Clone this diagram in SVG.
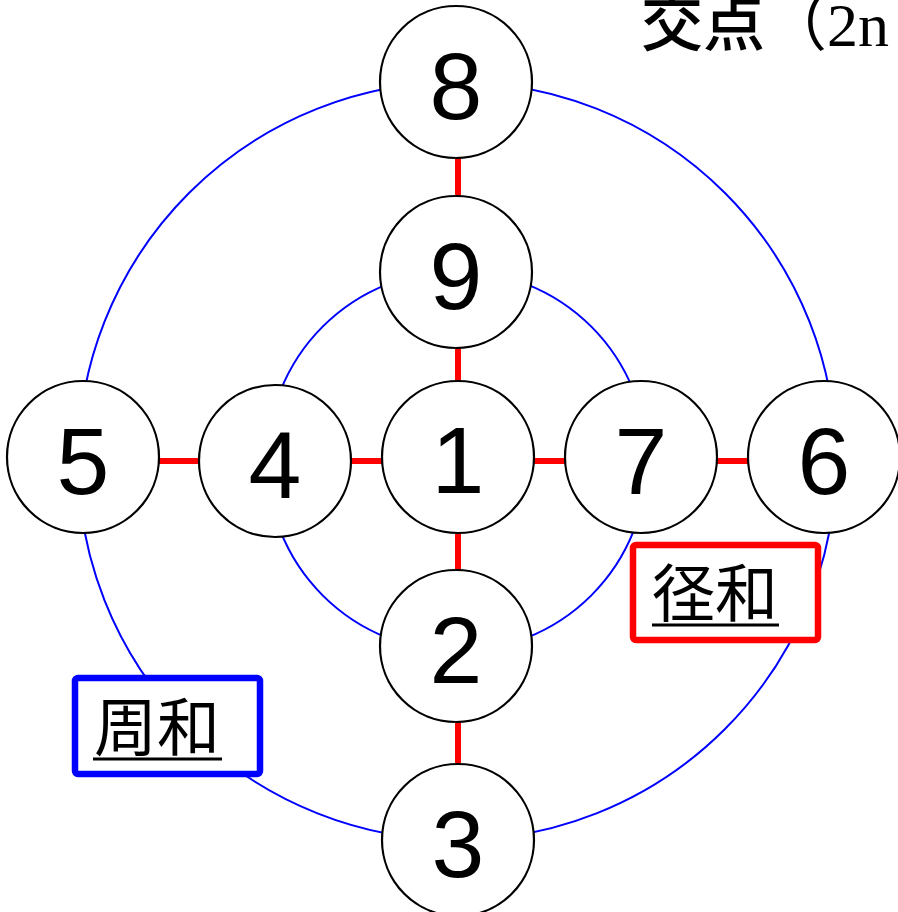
<svg xmlns="http://www.w3.org/2000/svg" width="898" height="912" viewBox="0 0 898 912">
<style>
.ring{fill:none;stroke:#0000ff;stroke-width:2}
.spoke{stroke:#ff0000;stroke-width:6;fill:none}
.node circle{fill:#fff;stroke:#000;stroke-width:2.2}
.node text{font-family:"Liberation Sans",Arial,sans-serif;font-size:95px;text-anchor:middle;fill:#000}
.lbl{font-family:"Noto Sans CJK JP","Noto Sans CJK SC",sans-serif;font-size:63px;fill:#000}
.ul{stroke:#000;stroke-width:3}
</style>
<rect width="898" height="912" fill="#fff"/>
<g id="connectors">
<circle class="ring" cx="457" cy="461" r="379"/>
<circle class="ring" cx="457" cy="461" r="190"/>
<line class="spoke" x1="458" y1="82" x2="458" y2="840"/>
<line class="spoke" x1="83" y1="461" x2="824" y2="461"/>
</g>
<g id="n8" class="node"><circle cx="456" cy="82" r="76"/><text x="456" y="119">8</text></g>
<g id="n9" class="node"><circle cx="456" cy="272" r="76"/><text x="456" y="309">9</text></g>
<g id="n1" class="node"><circle cx="458" cy="457" r="76"/><text x="458" y="493">1</text></g>
<g id="n2" class="node"><circle cx="456" cy="646" r="76"/><text x="456" y="683">2</text></g>
<g id="n3" class="node"><circle cx="458" cy="840" r="76"/><text x="458" y="877">3</text></g>
<g id="n5" class="node"><circle cx="83" cy="457" r="76"/><text x="83" y="494">5</text></g>
<g id="n4" class="node"><circle cx="275" cy="461" r="76"/><text x="275" y="498">4</text></g>
<g id="n7" class="node"><circle cx="641" cy="457" r="76"/><text x="641" y="494">7</text></g>
<g id="n6" class="node"><circle cx="824" cy="457" r="76"/><text x="824" y="494">6</text></g>
<g id="label-radial">
<rect x="633" y="545" width="185" height="95" rx="3" fill="#fff" stroke="#ff0000" stroke-width="6.5"/>
<text class="lbl" x="652" y="616">径和</text>
<line class="ul" x1="652" y1="625" x2="779" y2="625"/>
</g>
<g id="label-circum">
<rect x="75" y="678" width="185" height="96" rx="3" fill="#fff" stroke="#0000ff" stroke-width="6.5"/>
<text class="lbl" x="94" y="750">周和</text>
<line class="ul" x1="93" y1="759" x2="222" y2="759"/>
</g>
<g id="title">
<text x="641" y="46" font-size="62" font-family="Liberation Serif,'Noto Sans CJK JP',serif"><tspan font-family="'Noto Sans CJK JP',sans-serif" font-weight="500">交点</tspan><tspan font-family="'Noto Sans CJK JP',sans-serif">（</tspan>2n</text>
</g>
</svg>
